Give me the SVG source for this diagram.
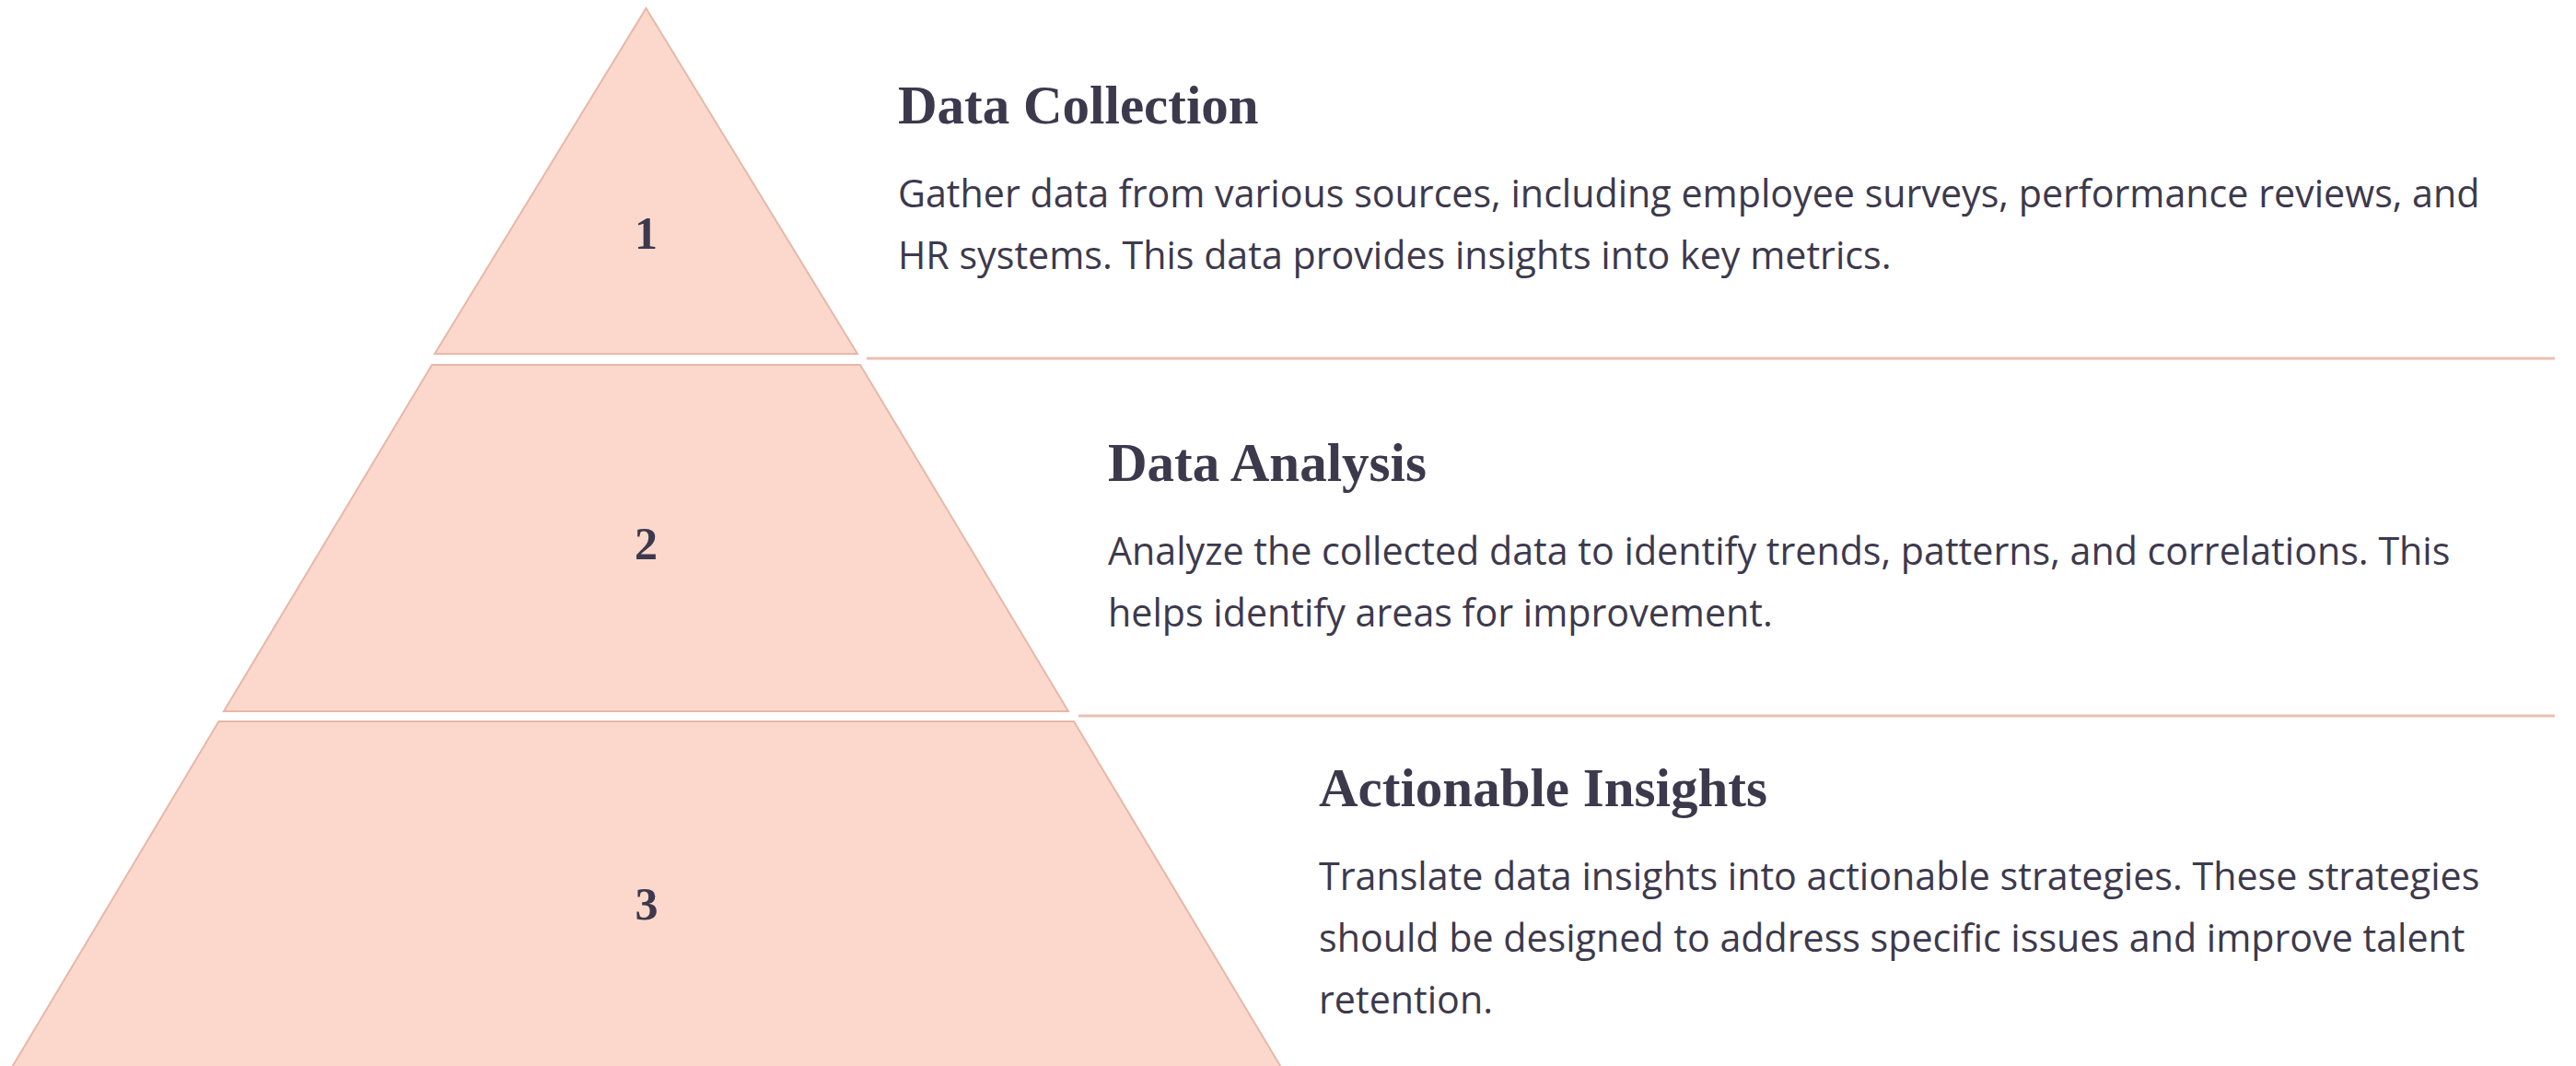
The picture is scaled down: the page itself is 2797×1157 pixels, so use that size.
<svg xmlns="http://www.w3.org/2000/svg" width="2797" height="1157" viewBox="0 0 2797 1157">
  <style>
    .layer { fill: #fcd8cc; stroke: #e6b8a8; stroke-width: 2; stroke-linejoin: miter; }
    .num { font-family: "Liberation Serif", "DejaVu Serif", serif; font-weight: bold; font-size: 50px; fill: #3d394d; text-anchor: middle; }
    .title { font-family: "Liberation Serif", "DejaVu Serif", serif; font-weight: bold; font-size: 59px; fill: #3d394d; }
    .body { font-family: "Open Sans", "Noto Sans", sans-serif; font-size: 41.2px; fill: #3d394d; }
    .rule { stroke: #e9c0b2; stroke-width: 3; fill: none; }
  </style>
  <rect width="2797" height="1157" fill="#ffffff"/>

  <!-- pyramid tiers -->
  <g id="tier-1">
    <polygon class="layer" points="701.5,9 931,384 472,384"/>
    <text class="num" x="701.5" y="270">1</text>
  </g>
  <g id="tier-2">
    <polygon class="layer" points="469,396 934,396 1160,772 243,772"/>
    <text class="num" x="701.5" y="607">2</text>
  </g>
  <g id="tier-3">
    <polygon class="layer" points="237.5,783 1166,783 1398,1170 6,1170"/>
    <text class="num" x="702" y="998">3</text>
  </g>

  <!-- divider rules between the tier descriptions -->
  <g id="connectors">
    <line class="rule" x1="941" y1="389" x2="2774" y2="389"/>
    <line class="rule" x1="1171" y1="777" x2="2774" y2="777"/>
  </g>

  <!-- tier descriptions -->
  <g id="desc-1">
    <text class="title" x="975" y="134">Data Collection</text>
    <text class="body" x="975" y="225">Gather data from various sources, including employee surveys, performance reviews, and</text>
    <text class="body" x="975" y="292">HR systems. This data provides insights into key metrics.</text>
  </g>
  <g id="desc-2">
    <text class="title" x="1203" y="522">Data Analysis</text>
    <text class="body" x="1203" y="613">Analyze the collected data to identify trends, patterns, and correlations. This</text>
    <text class="body" x="1203" y="680">helps identify areas for improvement.</text>
  </g>
  <g id="desc-3">
    <text class="title" x="1432" y="875">Actionable Insights</text>
    <text class="body" x="1432" y="966">Translate data insights into actionable strategies. These strategies</text>
    <text class="body" x="1432" y="1033">should be designed to address specific issues and improve talent</text>
    <text class="body" x="1432" y="1100">retention.</text>
  </g>
</svg>
